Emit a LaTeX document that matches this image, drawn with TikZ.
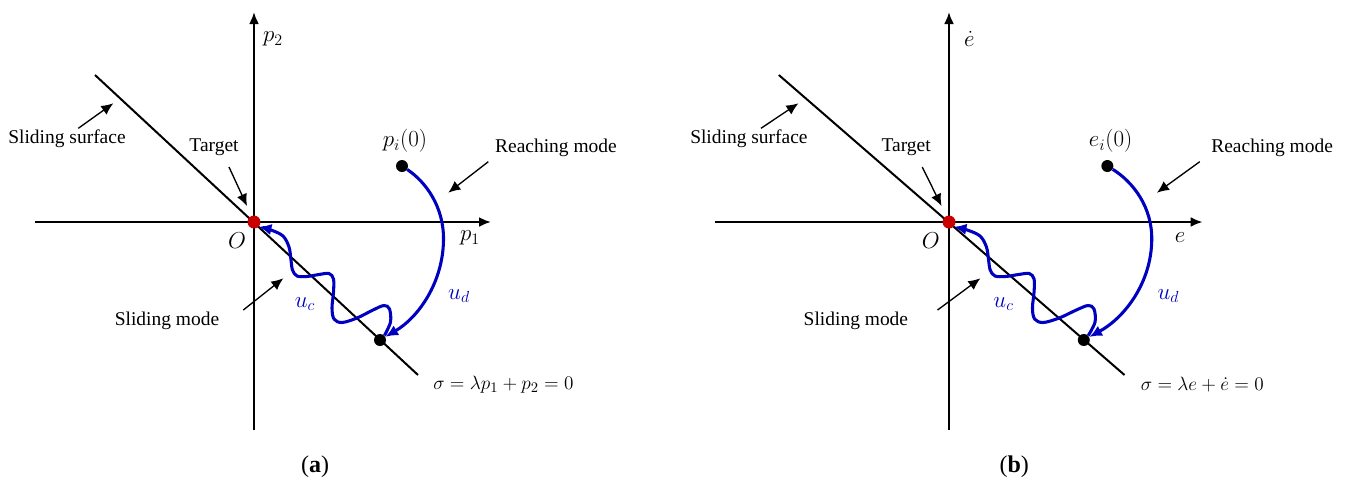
\documentclass[tikz,border=0pt]{standalone}
\usepackage{fontspec}
\setmainfont{Liberation Serif}
\usetikzlibrary{arrows.meta}
\definecolor{smcblue}{RGB}{0,0,192}
\definecolor{smcred}{RGB}{200,0,0}
\tikzset{
  axisline/.style={line width=1.7pt, -{Latex[length=9pt,width=7.5pt]}},
  surfline/.style={line width=1.5pt},
  traj/.style={smcblue, line width=2.3pt, -{Latex[length=9.5pt,width=8.5pt]}},
  ann/.style={line width=1pt, -{Latex[length=9pt,width=8pt]}},
  lbl/.style={font=\fontsize{14.6}{17}\selectfont, inner sep=0pt},
  mlbl/.style={font=\fontsize{17}{20}\selectfont, inner sep=0pt},
  eqlbl/.style={font=\fontsize{15}{18}\selectfont, inner sep=0pt},
  caplbl/.style={font=\fontsize{18}{21}\selectfont, inner sep=0pt},
  blackdot/.style={circle, fill=black, inner sep=0pt, minimum size=9pt},
  reddot/.style={circle, fill=smcred, inner sep=0pt, minimum size=9.75pt},
}
\newcommand\smcpanel[5]{%
  \coordinate (xl) at (-219,0); \coordinate (xr) at (237,0);
  \coordinate (yb) at (0,208);  \coordinate (yt) at (0,-210);
  \coordinate (sa) at (-159,-147); \coordinate (sb) at (164,153);
  \draw[axisline] (xl) -- (xr);
  \draw[axisline] (yb) -- (yt);
  \draw[surfline] (sa) -- (sb);
  \node[blackdot] (init) at (148,-56) {};
  \node[blackdot] (hit) at (126,118) {};
  \node[reddot] (O) at (0,0) {};
  \draw[traj] (init) .. controls (172,-40) and (190,-15) .. (189.5,18)
              .. controls (189,60) and (165,95) .. (hit);
  \draw[traj] plot[smooth, tension=0.55] coordinates {(hit.north east) (136.5,100) (135.5,87) (130,83.5)
     (119,88) (103,96) (88,100.5) (80,97) (78,86) (79.5,70) (79.5,57) (75,51.5) (65,52.5)
     (53,54.5) (43,54) (38.5,48) (37,38) (35,25) (29,14) (17,8) (O.south east)};
  \node[mlbl] (xlab) at (216,16) {$#1$};
  \node[mlbl] (ylab) at (19,-183) {$#2$};
  \node[mlbl] (olab) at (-17,19) {$O$};
  \node[mlbl] (initlab) at (151,-81) {$#3$};
  \node[eqlbl, anchor=west] (eq) at (179,163) {$#4$};
  \node[mlbl, text=smcblue] (uc) at (51,82) {$u_c$};
  \node[mlbl, text=smcblue] (ud) at (205,74) {$u_d$};
  \node[lbl] (ss) at (-187,-83) {Sliding surface};
  \node[lbl] (tg) at (-40,-75) {Target};
  \node[lbl] (rm) at (302,-74) {Reaching mode};
  \node[lbl] (sm) at (-87,99) {Sliding mode};
  \node[caplbl] (cap) at (61,245) {(\textbf{#5})};
  \coordinate (ssa) at (-175.7,-93.7); \coordinate (ssb) at (-140.7,-118.7);
  \coordinate (tga) at (-25,-55);      \coordinate (tgb) at (-7,-16);
  \coordinate (rma) at (234.3,-60.3);  \coordinate (rmb) at (194.3,-29.3);
  \coordinate (sma) at (-10.7,88);     \coordinate (smb) at (29.3,56.3);
  \draw[ann] (ssa) -- (ssb);
  \draw[ann] (tga) -- (tgb);
  \draw[ann] (rma) -- (rmb);
  \draw[ann] (sma) -- (smb);
}
\begin{document}
\begin{tikzpicture}[x=0.75pt, y=-0.75pt]
  \useasboundingbox (0,0) rectangle (1354,480);
  \begin{scope}[shift={(254,222)}, name prefix=a-]
    \smcpanel{p_1}{p_2}{p_i(0)}{\sigma = \lambda p_1 + p_2 = 0}{a}
  \end{scope}
  \begin{scope}[shift={(949,222)}, xscale=1.07, name prefix=b-]
    \smcpanel{e}{\dot{e}}{e_i(0)}{\sigma = \lambda e + \dot{e} = 0}{b}
  \end{scope}
\end{tikzpicture}
\end{document}
